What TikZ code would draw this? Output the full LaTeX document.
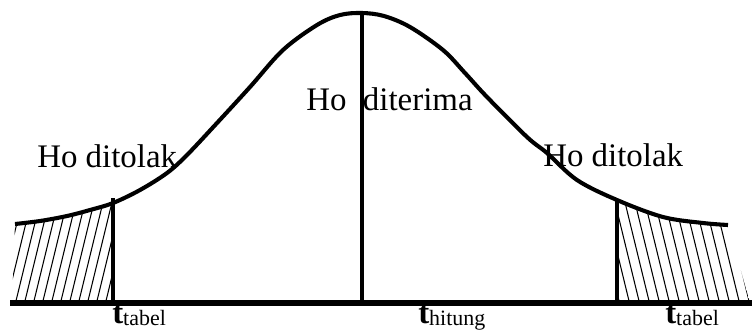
\documentclass[tikz,border=0pt]{standalone}
\usepackage{fontspec}
\setmainfont{Liberation Serif}
\usetikzlibrary{positioning}
\tikzset{
  curve/.style={line width=2.9pt, line join=round},
  axis/.style={line width=3.6pt},
  bound/.style={line width=2.5pt},
  hatch/.style={line width=0.75pt},
  label/.style={inner sep=0pt, anchor=base west, font=\fontsize{23.4}{28}\selectfont},
  tlabel/.style={label}
}
\newcommand\bellpath{plot[smooth, tension=0.55] coordinates {
  (15,224) (40,221) (67,216) (90,210) (113,203) (140,190) (167,173) (187,155)
  (217,123) (250,87) (283,50) (317,25) (340,15) (362,13) (384,16) (410,27)
  (443,50) (465,73) (487,97) (527,137) (547,153) (577,180) (617,200)
  (663,217) (703,223) (728,225)}}
\newcommand\tsub[1]{\textbf{t}\raisebox{-2pt}{\fontsize{15.6}{18}\selectfont #1}}

\begin{document}
\begin{tikzpicture}[x=0.025cm, y=-0.025cm]
\useasboundingbox (0,0) rectangle (752,332);

\coordinate (leftfoot) at (113,303);
\coordinate (lefttop) at (113,198);
\coordinate (peak) at (362,12);
\coordinate (midfoot) at (362,303);
\coordinate (rightfoot) at (617,303);
\coordinate (righttop) at (617,200);

% arsiran daerah penolakan kiri
\begin{scope}
  \clip (0,0) rectangle (113,310);
  \clip \bellpath -- (750,303) -- (12,303) -- cycle;
  \foreach \x in {-30,-21,...,120}
    \draw[hatch] (\x,305) -- (\x+28,190);
\end{scope}

% arsiran daerah penolakan kanan
\begin{scope}
  \clip (617,0) rectangle (752,310);
  \clip \bellpath -- (750,303) -- (12,303) -- cycle;
  \foreach \x in {610,620,...,780}
    \draw[hatch] (\x,305) -- (\x-28,190);
\end{scope}

\draw[curve] \bellpath;

\coordinate (axisleft) at (10,303);
\coordinate (axisright) at (752,303);
\draw[axis] (axisleft) -- (axisright);
\draw[bound] (lefttop) -- (leftfoot);
\draw[bound] (peak) -- (midfoot);
\draw[bound] (righttop) -- (rightfoot);

\node[label] (tolakkiri) at (37,167) {Ho ditolak};
\node[label] (terima) at (306,110) {Ho\ \ diterima};
\node[label] (tolakkanan) at (543,166) {Ho ditolak};

\node[tlabel] (tkiri) at (112,323) {\tsub{tabel}};
\node[tlabel] (thitung) at (418,323) {\tsub{hitung}};
\node[tlabel] (tkanan) at (665,323) {\tsub{tabel}};
\end{tikzpicture}
\end{document}
